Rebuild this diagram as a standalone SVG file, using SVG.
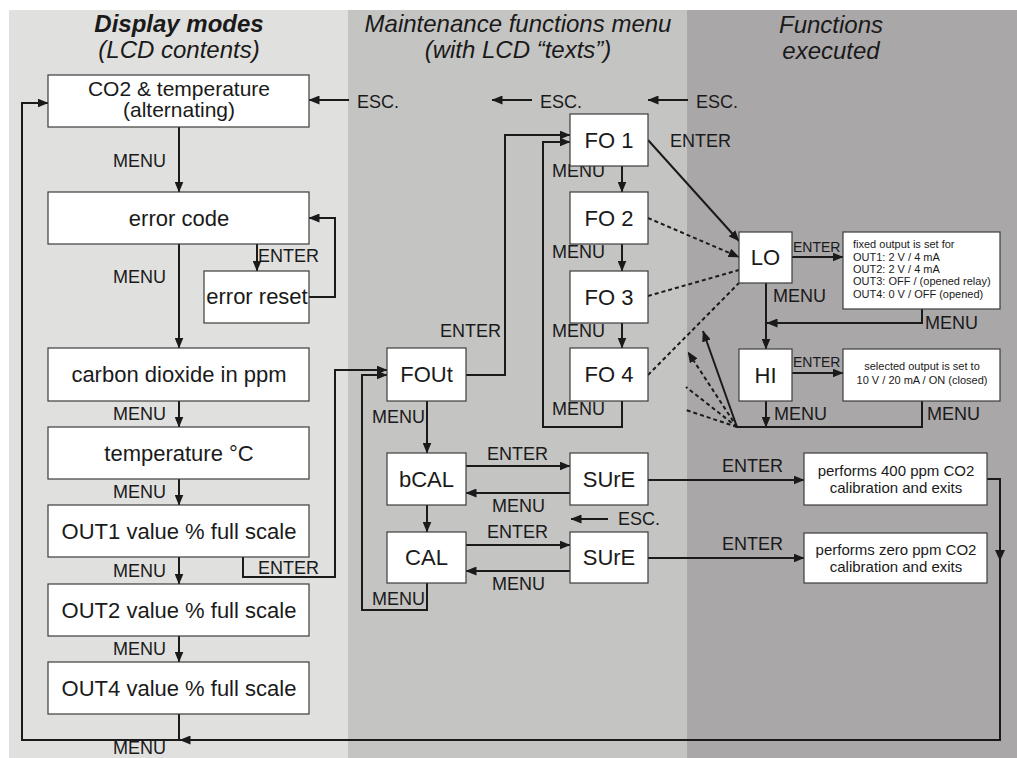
<svg xmlns="http://www.w3.org/2000/svg" width="1017" height="758" viewBox="0 0 1017 758">
<defs>
<marker id="ah" markerUnits="userSpaceOnUse" markerWidth="11" markerHeight="9" refX="10.5" refY="4.5" orient="auto"><path d="M0,0 L11,4.5 L0,9 z" fill="#1a1a1a"/></marker>
</defs>
<style>
.box{fill:#fff;stroke:#3c3c3c;stroke-width:1.2}
.c{fill:none;stroke:#1a1a1a;stroke-width:2}
.ca{fill:none;stroke:#1a1a1a;stroke-width:2;marker-end:url(#ah)}
.d{fill:none;stroke:#1a1a1a;stroke-width:2;stroke-dasharray:4 3}
.da{fill:none;stroke:#1a1a1a;stroke-width:2;stroke-dasharray:4 3;marker-end:url(#ah)}
text{font-family:"Liberation Sans",Arial,Helvetica,sans-serif;fill:#1a1a1a}
.t{font-size:22px;text-anchor:middle}
.t2{font-size:21px;text-anchor:middle}
.l{font-size:18px}
.m{font-size:14px}
.s{font-size:11px}
.p{font-size:15px;text-anchor:middle}
.h{font-size:24px;font-style:italic;text-anchor:middle}
</style>
<rect x="0" y="0" width="1017" height="758" fill="#fff"/>
<rect x="9" y="10" width="339" height="748" fill="#e0e0de"/>
<rect x="348" y="10" width="339" height="748" fill="#c4c4c2"/>
<rect x="687" y="10" width="330" height="748" fill="#a9a7a8"/>

<g id="titles">
<text class="h" x="179" y="32" font-weight="bold" font-size="25px">Display modes</text>
<text class="h" x="179" y="58">(LCD contents)</text>
<text class="h" x="518" y="32" font-size="25px">Maintenance functions menu</text>
<text class="h" x="518" y="58">(with LCD “texts”)</text>
<text class="h" x="831" y="33" font-size="25px">Functions</text>
<text class="h" x="831" y="59">executed</text>
</g>

<g id="connectors">
<path class="ca" d="M179,714 V740 H22 V103 H48"/>
<path class="ca" d="M987,479 H1000 V740 H180"/>
<path d="M995,550 L1000,561 L1005,550 z" fill="#1a1a1a"/>
<path class="ca" d="M349,100 H309"/>
<path class="ca" d="M532,100 H492"/>
<path class="ca" d="M688,100 H648"/>
<path class="ca" d="M608,519 H571"/>
<path class="ca" d="M179,127 V192"/>
<path class="ca" d="M257,244 V271"/>
<path class="ca" d="M309,297 H335 V218 H309"/>
<path class="ca" d="M179,244 V348"/>
<path class="ca" d="M179,401 V427"/>
<path class="ca" d="M179,479 V505"/>
<path class="ca" d="M179,557 V584"/>
<path class="ca" d="M179,636 V662"/>
<path class="ca" d="M243,557 V577 H335 V370 H387"/>
<path class="ca" d="M427,583 V610 H362 V375 H387"/>
<path class="ca" d="M466,375 H505 V135 H570"/>
<path class="ca" d="M622,401 V427 H543 V142 H570"/>
<path class="ca" d="M622,166 V192"/>
<path class="ca" d="M622,244 V271"/>
<path class="ca" d="M622,323 V348"/>
<path class="ca" d="M427,401 V453"/>
<path class="ca" d="M466,466 H570"/>
<path class="ca" d="M570,493 H466"/>
<path class="ca" d="M427,505 V532"/>
<path class="ca" d="M466,545 H570"/>
<path class="ca" d="M570,571 H466"/>
<path class="ca" d="M648,480 H804"/>
<path class="ca" d="M648,558 H804"/>
<path class="ca" d="M648,140 L739,241"/>
<path class="da" d="M648,218 L739,257"/>
<path class="d" d="M648,296 L739,270"/>
<path class="d" d="M648,375 L739,283"/>
<path class="ca" d="M792,257 H843"/>
<path class="ca" d="M766,283 V349"/>
<path class="ca" d="M922,309 V323 H767"/>
<path class="ca" d="M792,373 H843"/>
<path class="ca" d="M766,401 V427"/>
<path class="c" d="M737,427 H922 V401"/>
<path class="ca" d="M737,427 L703,331"/>
<path class="da" d="M737,427 L688,352"/>
<path class="d" d="M737,427 L686,387"/>
<path class="d" d="M737,427 L686,410"/>
</g>

<g id="labels">
<text class="l" x="113" y="167">MENU</text>
<text class="l" x="113" y="283">MENU</text>
<text class="l" x="113" y="420">MENU</text>
<text class="l" x="113" y="498">MENU</text>
<text class="l" x="113" y="577">MENU</text>
<text class="l" x="113" y="655">MENU</text>
<text class="l" x="113" y="754">MENU</text>
<text class="l" x="258" y="262">ENTER</text>
<text class="l" x="258" y="574">ENTER</text>
<text class="l" x="357" y="108">ESC.</text>
<text class="l" x="540" y="108">ESC.</text>
<text class="l" x="696" y="108">ESC.</text>
<text class="l" x="440" y="337">ENTER</text>
<text class="l" x="670" y="147">ENTER</text>
<text class="l" x="552" y="177">MENU</text>
<text class="l" x="552" y="258">MENU</text>
<text class="l" x="552" y="337">MENU</text>
<text class="l" x="552" y="415">MENU</text>
<text class="l" x="372" y="423">MENU</text>
<text class="l" x="372" y="605">MENU</text>
<text class="l" x="487" y="460">ENTER</text>
<text class="l" x="492" y="512">MENU</text>
<text class="l" x="487" y="538">ENTER</text>
<text class="l" x="492" y="590">MENU</text>
<text class="l" x="618" y="525">ESC.</text>
<text class="l" x="722" y="472">ENTER</text>
<text class="l" x="722" y="550">ENTER</text>
<text class="m" x="793" y="252">ENTER</text>
<text class="m" x="793" y="367">ENTER</text>
<text class="l" x="773" y="302">MENU</text>
<text class="l" x="925" y="329">MENU</text>
<text class="l" x="774" y="420">MENU</text>
<text class="l" x="927" y="420">MENU</text>
</g>

<g id="n-co2"><rect class="box" x="48" y="75" width="261" height="52"/><text class="t2" x="179" y="96">CO2 &amp; temperature</text><text class="t2" x="179" y="117">(alternating)</text></g>
<g id="n-error-code"><rect class="box" x="48" y="192" width="261" height="52"/><text class="t" x="179" y="226">error code</text></g>
<g id="n-error-reset"><rect class="box" x="204" y="271" width="105" height="52"/><text class="t" x="257" y="304">error reset</text></g>
<g id="n-co2ppm"><rect class="box" x="48" y="348" width="261" height="53"/><text class="t" x="179" y="382">carbon dioxide in ppm</text></g>
<g id="n-temp"><rect class="box" x="48" y="427" width="261" height="52"/><text class="t" x="179" y="461">temperature °C</text></g>
<g id="n-out1"><rect class="box" x="48" y="505" width="261" height="52"/><text class="t" x="179" y="539">OUT1 value % full scale</text></g>
<g id="n-out2"><rect class="box" x="48" y="584" width="261" height="52"/><text class="t" x="179" y="618">OUT2 value % full scale</text></g>
<g id="n-out4"><rect class="box" x="48" y="662" width="261" height="52"/><text class="t" x="179" y="696">OUT4 value % full scale</text></g>

<g id="n-fout"><rect class="box" x="387" y="348" width="79" height="53"/><text class="t" x="426.5" y="382">FOUt</text></g>
<g id="n-fo1"><rect class="box" x="570" y="114" width="78" height="52"/><text class="t" x="609" y="148">FO 1</text></g>
<g id="n-fo2"><rect class="box" x="570" y="192" width="78" height="52"/><text class="t" x="609" y="226">FO 2</text></g>
<g id="n-fo3"><rect class="box" x="570" y="271" width="78" height="52"/><text class="t" x="609" y="305">FO 3</text></g>
<g id="n-fo4"><rect class="box" x="570" y="348" width="78" height="53"/><text class="t" x="609" y="382">FO 4</text></g>
<g id="n-bcal"><rect class="box" x="387" y="453" width="79" height="52"/><text class="t" x="426.5" y="487">bCAL</text></g>
<g id="n-cal"><rect class="box" x="387" y="532" width="79" height="51"/><text class="t" x="426.5" y="565">CAL</text></g>
<g id="n-sure1"><rect class="box" x="570" y="453" width="78" height="52"/><text class="t" x="609" y="487">SUrE</text></g>
<g id="n-sure2"><rect class="box" x="570" y="532" width="78" height="51"/><text class="t" x="609" y="565">SUrE</text></g>

<g id="n-lo"><rect class="box" x="739" y="232" width="53" height="51"/><text class="t" x="765.5" y="265">LO</text></g>
<g id="n-hi"><rect class="box" x="739" y="349" width="53" height="52"/><text class="t" x="765.5" y="383">HI</text></g>
<g id="n-fixed"><rect class="box" x="843" y="232" width="157" height="77"/>
<text class="s" x="853" y="248">fixed output is set for</text>
<text class="s" x="853" y="260.5">OUT1: 2 V / 4 mA</text>
<text class="s" x="853" y="273">OUT2: 2 V / 4 mA</text>
<text class="s" x="853" y="285">OUT3: OFF / (opened relay)</text>
<text class="s" x="853" y="297.5">OUT4: 0 V / OFF (opened)</text></g>
<g id="n-selected"><rect class="box" x="843" y="349" width="157" height="52"/>
<text class="s" x="922" y="370" text-anchor="middle">selected output is set to</text>
<text class="s" x="922" y="384" text-anchor="middle">10 V / 20 mA / ON (closed)</text></g>
<g id="n-cal400"><rect class="box" x="804" y="453" width="183" height="52"/>
<text class="p" x="896" y="476">performs 400 ppm CO2</text>
<text class="p" x="896" y="493">calibration and exits</text></g>
<g id="n-cal0"><rect class="box" x="804" y="533" width="183" height="50"/>
<text class="p" x="896" y="555">performs zero ppm CO2</text>
<text class="p" x="896" y="572">calibration and exits</text></g>
</svg>
